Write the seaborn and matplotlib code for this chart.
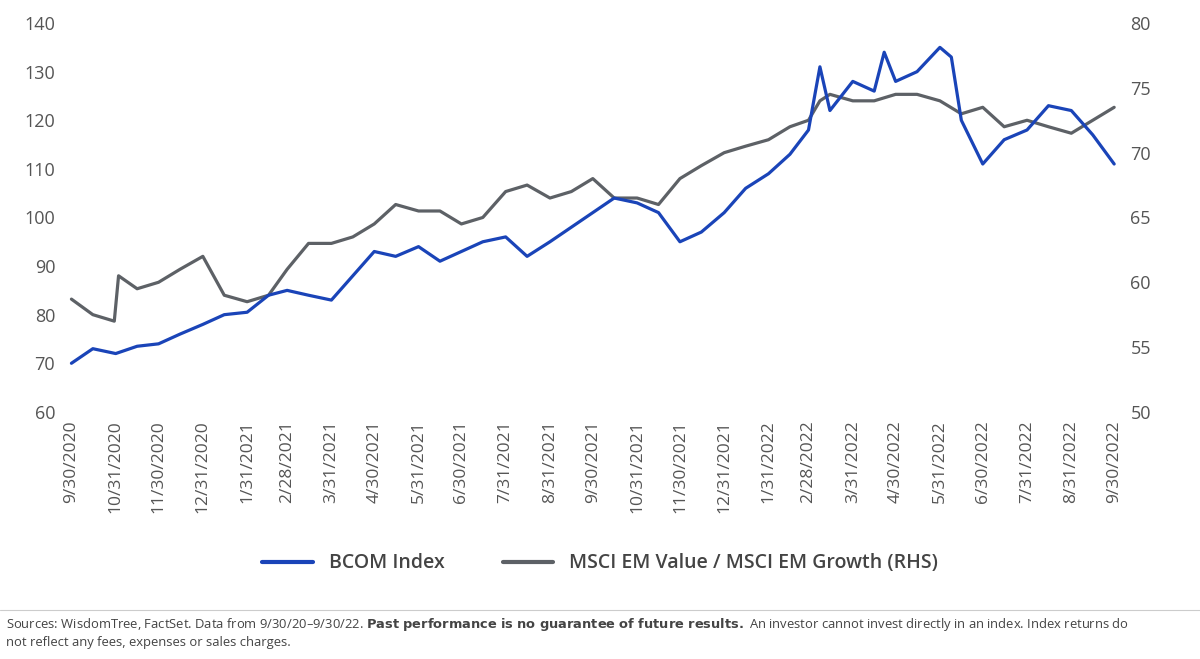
import matplotlib
matplotlib.use("Agg")
import matplotlib.pyplot as plt
import seaborn as sns
import pandas as pd
from matplotlib.lines import Line2D

sns.set_theme(style="white")
plt.rcParams['font.family'] = ['Open Sans', 'DejaVu Sans']

bcom_dates = ["2020-09-30","2020-10-15","2020-10-31","2020-11-15","2020-11-30","2020-12-15","2020-12-31",
 "2021-01-15","2021-01-31","2021-02-15","2021-02-28","2021-03-15","2021-03-31","2021-04-15","2021-04-30",
 "2021-05-15","2021-05-31","2021-06-15","2021-06-30","2021-07-15","2021-07-31","2021-08-15","2021-08-31",
 "2021-09-15","2021-09-30","2021-10-15","2021-10-31","2021-11-15","2021-11-30","2021-12-15","2021-12-31",
 "2022-01-15","2022-01-31","2022-02-15","2022-02-28","2022-03-08","2022-03-15","2022-03-31","2022-04-15",
 "2022-04-22","2022-04-30","2022-05-15","2022-05-31","2022-06-08","2022-06-15","2022-06-30","2022-07-15",
 "2022-07-31","2022-08-15","2022-08-31","2022-09-15","2022-09-30"]
bcom_values = [70,73,72,73.5,74,76,78,80,80.5,84,85,84,83,88,93,92,94,91,93,95,96,92,95,98,101,104,103,101,
 95,97,101,106,109,113,118,131,122,128,126,134,128,130,135,133,120,111,116,118,123,122,117,111]

msci_dates = ["2020-09-30","2020-10-15","2020-10-30","2020-11-02","2020-11-15","2020-11-30","2020-12-15","2020-12-31",
 "2021-01-15","2021-01-31","2021-02-15","2021-02-28","2021-03-15","2021-03-31","2021-04-15","2021-04-30",
 "2021-05-15","2021-05-31","2021-06-15","2021-06-30","2021-07-15","2021-07-31","2021-08-15","2021-08-31",
 "2021-09-15","2021-09-30","2021-10-15","2021-10-31","2021-11-15","2021-11-30","2021-12-15","2021-12-31",
 "2022-01-15","2022-01-31","2022-02-15","2022-02-28","2022-03-08","2022-03-15","2022-03-31","2022-04-15",
 "2022-04-30","2022-05-15","2022-05-31","2022-06-15","2022-06-30","2022-07-15","2022-07-31","2022-08-15",
 "2022-08-31","2022-09-15","2022-09-30"]
msci_values = [58.7,57.5,57,60.5,59.5,60,61,62,59,58.5,59,61,63,63,63.5,64.5,66,65.5,65.5,64.5,65,67,67.5,66.5,
 67,68,66.5,66.5,66,68,69,70,70.5,71,72,72.5,74,74.5,74,74,74.5,74.5,74,73,73.5,72,72.5,72,71.5,72.5,73.5]

tick_dates = pd.date_range("2020-09-30", "2022-09-30", freq="ME")

bcom = pd.DataFrame({"date": pd.to_datetime(bcom_dates), "value": bcom_values})
msci = pd.DataFrame({"date": pd.to_datetime(msci_dates), "value": msci_values})

blue = "#1a44b8"
gray = "#5d6166"
tc = "#555555"

fig = plt.figure(figsize=(12, 6.59), dpi=100)
ax = fig.add_axes([0.05, 0.375, 0.888, 0.59])
ax2 = ax.twinx()
sns.lineplot(data=msci, x="date", y="value", ax=ax2, color=gray, lw=2.3)
sns.lineplot(data=bcom, x="date", y="value", ax=ax, color=blue, lw=2.3)
ax.set_zorder(ax2.get_zorder() + 1); ax.patch.set_visible(False)

ax.set_ylim(60, 140); ax2.set_ylim(50, 80)
ax.set_yticks(range(60, 141, 10)); ax2.set_yticks(range(50, 81, 5))
ax.set_xlim(pd.Timestamp("2020-09-22"), pd.Timestamp("2022-10-08"))
ax.set_xticks(tick_dates)
ax.set_xticklabels([f"{d.month}/{d.day}/{d.year}" for d in tick_dates], rotation=90)
for a in (ax, ax2):
    a.set_xlabel(""); a.set_ylabel("")
    for s in a.spines.values():
        s.set_visible(False)
    a.tick_params(colors=tc, labelsize=13, length=0)
ax.tick_params(axis="x", labelsize=12.5, pad=6)

handles = [Line2D([], [], color=blue, lw=3), Line2D([], [], color=gray, lw=3)]
fig.legend(handles, ["BCOM Index", "MSCI EM Value / MSCI EM Growth (RHS)"], loc="center",
           bbox_to_anchor=(0.5, 0.145), ncol=2, frameon=False, handlelength=2.6,
           columnspacing=3, labelcolor="#444444", prop={"size": 14, "weight": "semibold"})
fig.add_artist(Line2D([0, 1], [0.075, 0.075], transform=fig.transFigure, color="#cccccc", lw=0.8))
fig.text(0.005, 0.052, "Sources: WisdomTree, FactSet. Data from 9/30/20–9/30/22. $\\bf{Past\\ performance\\ is\\ no\\ guarantee\\ of\\ future\\ results.}$ An investor cannot invest directly in an index. Index returns do",
         fontsize=9.4, color="#444444", va="center")
fig.text(0.005, 0.025, "not reflect any fees, expenses or sales charges.", fontsize=9.4, color="#444444", va="center")
fig.savefig("out.png", dpi=100)
